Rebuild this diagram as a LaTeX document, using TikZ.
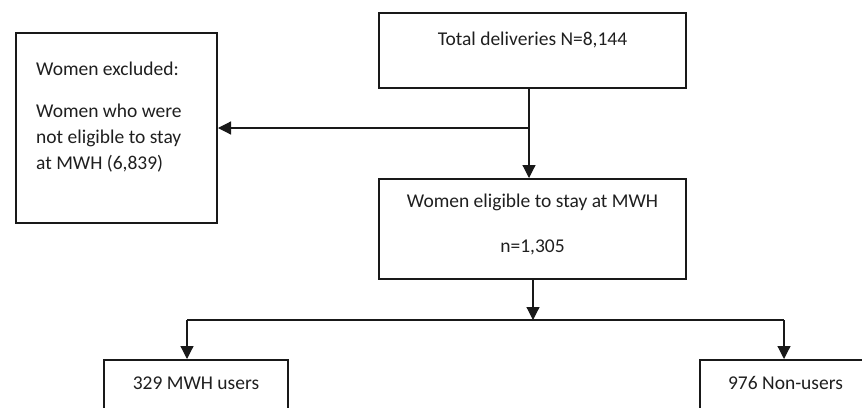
\documentclass[tikz,border=0pt]{standalone}
\usepackage{fontspec}
\setmainfont{Carlito}
\usetikzlibrary{arrows.meta}
\begin{document}
\begin{tikzpicture}[x=1pt,y=1pt,
  box/.style={draw=black!90,line width=2pt,minimum width=#1,inner sep=0pt},
  lbl/.style={font=\fontsize{19.5}{26}\selectfont,inner sep=0pt,text=black!88},
  arr/.style={line width=1.2pt,draw=black!90,-{Triangle[length=13pt,width=13pt]}},
  ln/.style={line width=1.2pt,draw=black!90}]
\clip (0,0) rectangle (862,-407);
% boxes
\node[box=201pt,minimum height=190pt] (excl) at (116.5,-128) {};
\node[box=307pt,minimum height=75pt] (top) at (532.5,-50.5) {};
\node[box=307pt,minimum height=100pt] (mid) at (532.5,-229) {};
\node[box=184pt,minimum height=80pt] (bl) at (196,-400) {};
\node[box=171pt,minimum height=80pt] (br) at (785.5,-400) {};
% texts
\node[lbl,anchor=west] (t1) at (36,-69) {Women excluded:};
\node[lbl,anchor=north west,align=left] (t2) at (36,-104) {Women who were\\not eligible to stay\\at MWH (6,839)};
\node[lbl] (t3) at (532.5,-40) {Total deliveries N=8,144};
\node[lbl] (t4) at (532.5,-202) {Women eligible to stay at MWH};
\node[lbl] (t5) at (532.5,-247) {n=1,305};
\node[lbl] (t6) at (196,-383) {329 MWH users};
\node[lbl] (t7) at (785.5,-383) {976 Non-users};
% connectors
\coordinate (j1) at (529,-128);
\coordinate (j2) at (533,-320);
\coordinate (j3) at (187,-320);
\coordinate (j4) at (784,-320);
\draw[arr] (top.south -| j1) -- (mid.north -| j1);
\draw[arr] (j1) -- (excl.east |- j1);
\draw[arr] (mid.south -| j2) -- (j2);
\draw[ln] (j3) -- (j4);
\draw[arr] (j3) -- (j3 |- bl.north);
\draw[arr] (j4) -- (j4 |- br.north);
\end{tikzpicture}
\end{document}
